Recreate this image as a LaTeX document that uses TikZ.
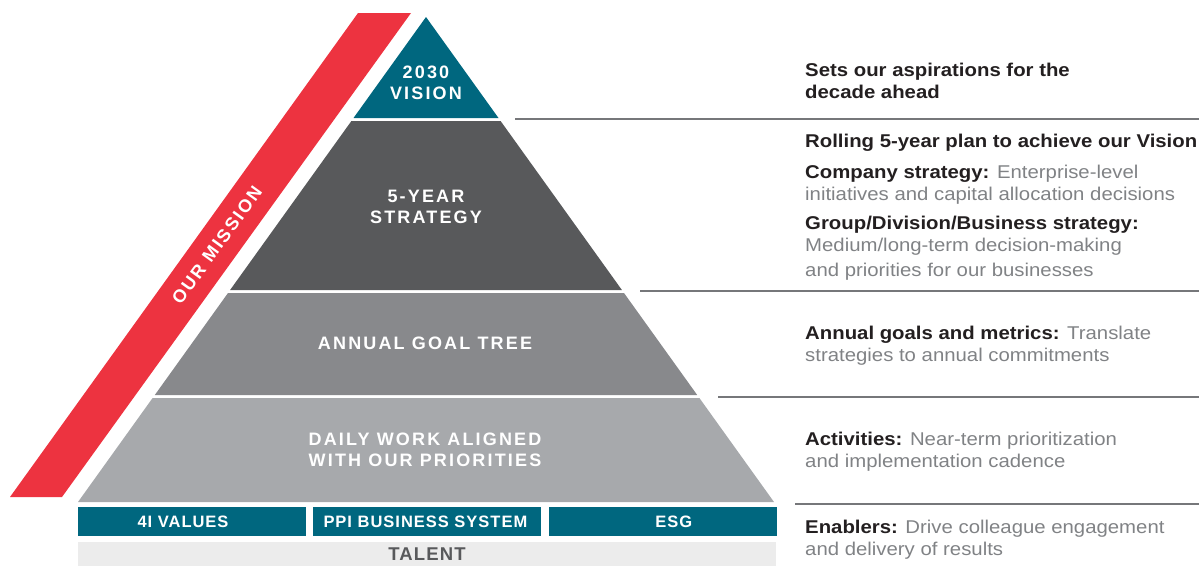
\documentclass[tikz,border=0pt]{standalone}
\usepackage{fontspec}
\setmainfont{Liberation Sans}
\newfontfamily\capfont{Liberation Sans}[LetterSpace=12]
\newfontfamily\barfont{Liberation Sans}[LetterSpace=6]
\newfontfamily\descfont{Liberation Sans}[FakeStretch=1.1]
\usetikzlibrary{positioning, calc}

\definecolor{visionc}{HTML}{00677F}
\definecolor{stratc}{HTML}{58595B}
\definecolor{goalc}{HTML}{88898C}
\definecolor{dailyc}{HTML}{A7A9AC}
\definecolor{missionc}{HTML}{ED3340}
\definecolor{talentc}{HTML}{ECECEC}
\definecolor{txtdark}{HTML}{231F20}
\definecolor{txtgray}{HTML}{808285}
\definecolor{linegray}{HTML}{76777A}

\newcommand\hdr[1]{\textcolor{txtdark}{\bfseries #1}}

\begin{document}
\begin{tikzpicture}[x=1pt,y=-1pt,
    lbl/.style={text=white,font=\capfont\bfseries\fontsize{18}{21.5}\selectfont,align=center,inner sep=0pt},
    bar/.style={fill=visionc,minimum width=228pt,minimum height=29pt,inner sep=0pt,text=white,font=\barfont\bfseries\fontsize{16.5}{20}\selectfont},
    desc/.style={anchor=north west,align=left,inner sep=0pt,text=txtgray,font=\descfont\fontsize{18.5}{21.5}\selectfont},
    sep/.style={draw=linegray,line width=1.2pt}]
    \useasboundingbox (0,0) rectangle (1199,566);

    % mission band
    \fill[missionc] (10,497) -- (62,497) -- (411,13) -- (358,13) -- cycle;
    \node[lbl,rotate=54.2] (Mis) at (217,245) {OUR MISSION};

    % pyramid levels
    \fill[visionc] (426,17) -- (498.5,118) -- (353.5,118) -- cycle;
    \fill[stratc] (351.4,121) -- (500.6,121) -- (621.9,290) -- (230.1,290) -- cycle;
    \fill[goalc] (228,293) -- (624,293) -- (697.2,395) -- (154.8,395) -- cycle;
    \fill[dailyc] (152.6,398) -- (699.4,398) -- (774,502) -- (78,502) -- cycle;
    \node[lbl] (L1) at (426,83) {2030\\VISION};
    \node[lbl] (L2) at (426,207) {5-YEAR\\STRATEGY};
    \node[lbl] (L3) at (425,343) {ANNUAL GOAL TREE};
    \node[lbl] (L4) at (425,450) {DAILY WORK ALIGNED\\WITH OUR PRIORITIES};

    % foundation
    \node[bar] (B1) at (192,521.5) {4I VALUES\hspace*{18pt}};
    \node[bar,right=7pt of B1] (B2) {PPI BUSINESS SYSTEM\hspace*{4pt}};
    \node[bar,right=7pt of B2] (B3) {\hspace*{22pt}ESG};
    \node[fill=talentc,minimum width=698pt,minimum height=24pt,inner sep=0pt,anchor=north,
          text=stratc,font=\barfont\bfseries\fontsize{18.5}{20}\selectfont] (Tal) at (427,542) {TALENT};

    % separators
    \draw[sep] (515,119) -- (1199,119);
    \draw[sep] (640,291) -- (1199,291);
    \draw[sep] (718,397) -- (1199,397);
    \draw[sep] (795,504) -- (1199,504);

    % descriptions
    \node[desc] (T1) at (805,63) {\hdr{Sets our aspirations for the}\\\hdr{decade ahead}};
    \node[desc] (T2) at (805,134) {\hdr{Rolling 5-year plan to achieve our Vision}};
    \node[desc] (T3) at (805,165) {\hdr{Company strategy:} Enterprise-level\\initiatives and capital allocation decisions};
    \node[desc] (T4) at (805,216) {\hdr{Group/Division/Business strategy:}\\Medium/long-term decision-making\\[3.5pt]and priorities for our businesses};
    \node[desc] (T5) at (805,326) {\hdr{Annual goals and metrics:} Translate\\strategies to annual commitments};
    \node[desc] (T6) at (805,432) {\hdr{Activities:} Near-term prioritization\\and implementation cadence};
    \node[desc] (T7) at (805,520) {\hdr{Enablers:} Drive colleague engagement\\and delivery of results};
\end{tikzpicture}
\end{document}
